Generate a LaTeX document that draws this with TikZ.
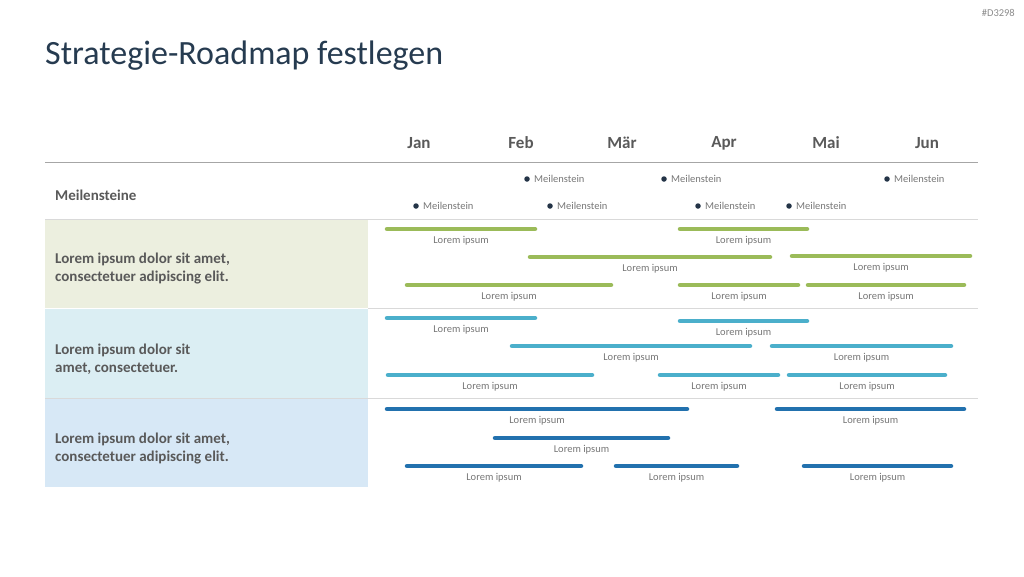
\documentclass[tikz,border=0pt]{standalone}
\usepackage{fontspec}
\setmainfont{Carlito}
\usetikzlibrary{positioning}

\definecolor{titleblue}{HTML}{263B50}
\definecolor{txtgray}{HTML}{595959}
\definecolor{lblgray}{HTML}{767676}
\definecolor{dotblue}{HTML}{243447}
\definecolor{barGreen}{HTML}{9BBB59}
\definecolor{barTeal}{HTML}{4BAFCB}
\definecolor{barBlue}{HTML}{2271AE}
\definecolor{fillGreen}{HTML}{ECEFDF}
\definecolor{fillTeal}{HTML}{DBEEF3}
\definecolor{fillBlue}{HTML}{D7E8F6}

\begin{document}
\begin{tikzpicture}[
    x=1pt, y=-1pt,
    month/.style={
        font=\fontsize{17}{20}\selectfont\bfseries,
        text=txtgray
    },
    rowtext/.style={
        anchor=west,
        align=left,
        inner sep=0pt,
        font=\fontsize{15}{18}\selectfont\bfseries,
        text=txtgray
    },
    dot/.style={
        circle,
        fill=dotblue,
        inner sep=0pt,
        minimum size=5.5pt
    },
    mtext/.style={
        font=\fontsize{10.5}{12}\selectfont,
        text=lblgray,
        inner sep=0pt
    },
    lbl/.style={
        font=\fontsize{10.5}{12}\selectfont,
        text=lblgray,
        inner sep=0pt,
        midway,
        below=5.5pt
    },
    greenbar/.style={line width=4.5pt, line cap=round, barGreen},
    tealbar/.style={line width=4.5pt, line cap=round, barTeal},
    bluebar/.style={line width=4.5pt, line cap=round, barBlue},
    thinrule/.style={draw=black!15, line width=0.8pt}
]
    \useasboundingbox (0,0) rectangle (1024,576);

    % -- Title --
    \node[anchor=base west, inner sep=0pt, text=titleblue,
          font=\fontsize{34}{40}\selectfont] (title) at (45,64) {Strategie-Roadmap festlegen};
    \node[anchor=north east, inner sep=0pt, text=black!45,
          font=\fontsize{10.5}{12}\selectfont] (code) at (1015,9) {\#D3298};

    % -- Row backgrounds --
    \fill[fillGreen] (45,220) rectangle (368,308);
    \fill[fillTeal] (45,309) rectangle (368,398);
    \fill[fillBlue] (45,399) rectangle (368,487);

    % -- Months --
    \node[month] (jan) at (419,143) {Jan};
    \node[month] (feb) at (521,143) {Feb};
    \node[month] (mar) at (622,143) {Mär};
    \node[month] (apr) at (724,143) {Apr};
    \node[month] (mai) at (826,143) {Mai};
    \node[month] (jun) at (927,143) {Jun};

    % Rules
    \draw[black!35, line width=1.4pt] (45,162.5) -- (978,162.5);
    \draw[thinrule] (45,219.5) -- (978,219.5);
    \draw[thinrule] (368,308.5) -- (978,308.5);
    \draw[thinrule] (45,398.5) -- (978,398.5);

    % -- Milestones --
    \node[rowtext] (mlabel) at (55,195) {Meilensteine};

    \node[dot] (d1) at (527,179) {};
    \node[mtext, right=4pt of d1] (m1) {Meilenstein};
    \node[dot] (d2) at (664,179) {};
    \node[mtext, right=4pt of d2] (m2) {Meilenstein};
    \node[dot] (d3) at (887,179) {};
    \node[mtext, right=4pt of d3] (m3) {Meilenstein};
    \node[dot] (d4) at (416,206) {};
    \node[mtext, right=4pt of d4] (m4) {Meilenstein};
    \node[dot] (d5) at (550,206) {};
    \node[mtext, right=4pt of d5] (m5) {Meilenstein};
    \node[dot] (d6) at (698,206) {};
    \node[mtext, right=4pt of d6] (m6) {Meilenstein};
    \node[dot] (d7) at (789,206) {};
    \node[mtext, right=4pt of d7] (m7) {Meilenstein};

    % -- Row 1 (green) --
    \node[rowtext] (row1) at (55,269) {Lorem ipsum dolor sit amet,\\consectetuer adipiscing elit.};

    \draw[greenbar] (387,229) -- node[lbl] (g1) {Lorem ipsum} (535,229);
    \draw[greenbar] (680,229) -- node[lbl] (g2) {Lorem ipsum} (807,229);
    \draw[greenbar] (530,257) -- node[lbl] (g3) {Lorem ipsum} (770,257);
    \draw[greenbar] (792,256) -- node[lbl] (g4) {Lorem ipsum} (970,256);
    \draw[greenbar] (407,285) -- node[lbl] (g5) {Lorem ipsum} (611,285);
    \draw[greenbar] (680,285) -- node[lbl] (g6) {Lorem ipsum} (798,285);
    \draw[greenbar] (808,285) -- node[lbl] (g7) {Lorem ipsum} (964,285);

    % -- Row 2 (teal) --
    \node[rowtext] (row2) at (55,359) {Lorem ipsum dolor sit\\amet, consectetuer.};

    \draw[tealbar] (387,318) -- node[lbl] (t1) {Lorem ipsum} (535,318);
    \draw[tealbar] (680,321) -- node[lbl] (t2) {Lorem ipsum} (807,321);
    \draw[tealbar] (512,346) -- node[lbl] (t3) {Lorem ipsum} (750,346);
    \draw[tealbar] (772,346) -- node[lbl] (t4) {Lorem ipsum} (951,346);
    \draw[tealbar] (388,375) -- node[lbl] (t5) {Lorem ipsum} (592,375);
    \draw[tealbar] (660,375) -- node[lbl] (t6) {Lorem ipsum} (778,375);
    \draw[tealbar] (789,375) -- node[lbl] (t7) {Lorem ipsum} (945,375);

    % -- Row 3 (blue) --
    \node[rowtext] (row3) at (55,448) {Lorem ipsum dolor sit amet,\\consectetuer adipiscing elit.};

    \draw[bluebar] (387,409) -- node[lbl] (b1) {Lorem ipsum} (687,409);
    \draw[bluebar] (777,409) -- node[lbl] (b2) {Lorem ipsum} (964,409);
    \draw[bluebar] (495,438) -- node[lbl] (b3) {Lorem ipsum} (668,438);
    \draw[bluebar] (407,466) -- node[lbl] (b4) {Lorem ipsum} (581,466);
    \draw[bluebar] (616,466) -- node[lbl] (b5) {Lorem ipsum} (737,466);
    \draw[bluebar] (804,466) -- node[lbl] (b6) {Lorem ipsum} (951,466);

\end{tikzpicture}
\end{document}
